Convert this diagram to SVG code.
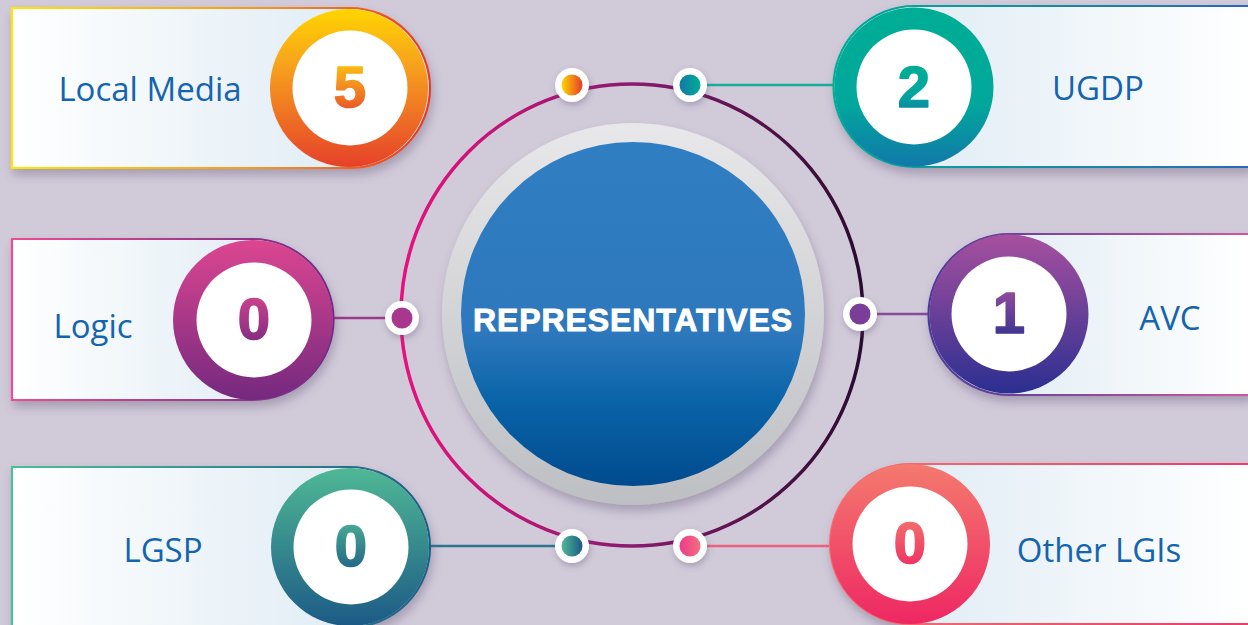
<svg xmlns="http://www.w3.org/2000/svg" width="1248" height="625" viewBox="0 0 1248 625">
<style>
.lbl{font-family:"Open Sans","Liberation Sans",sans-serif;font-size:33px;fill:#1464ae;text-anchor:middle}
.num{font-family:"Liberation Sans",Arial,sans-serif;font-weight:700;font-size:58px;text-anchor:middle;stroke-width:1.6;stroke-linejoin:round}
.title{font-family:"Liberation Sans",Arial,sans-serif;font-weight:700;font-size:32px;fill:#fff;stroke:#fff;stroke-width:0.9;text-anchor:middle;letter-spacing:0.9px}
.white{fill:#fff}
.dotw{fill:#fff;filter:url(#sh2)}
.conn{stroke-width:2.5;fill:none}
</style>
<defs>
<filter id="sh" x="-20%" y="-20%" width="140%" height="150%"><feDropShadow dx="2" dy="6" stdDeviation="5" flood-color="#5a4a6a" flood-opacity="0.35"/></filter>
<filter id="sh2" x="-50%" y="-50%" width="200%" height="200%"><feDropShadow dx="1" dy="3" stdDeviation="3" flood-color="#5a4a6a" flood-opacity="0.35"/></filter>
<linearGradient id="cardL" x1="0" y1="0" x2="1" y2="0"><stop offset="0" stop-color="#ffffff"/><stop offset="1" stop-color="#d9e8f2"/></linearGradient>
<linearGradient id="cardR" x1="0" y1="0" x2="1" y2="0"><stop offset="0" stop-color="#d9e8f2"/><stop offset="1" stop-color="#ffffff"/></linearGradient>
<linearGradient id="g5" x1="0" y1="0" x2="0" y2="1"><stop offset="0" stop-color="#ffd500"/><stop offset="0.35" stop-color="#f7a21d"/><stop offset="1" stop-color="#e6412a"/></linearGradient>
<linearGradient id="g5s" x1="0" y1="0" x2="1" y2="0"><stop offset="0" stop-color="#ffe600"/><stop offset="0.6" stop-color="#f6961f"/><stop offset="1" stop-color="#e63a26"/></linearGradient>
<linearGradient id="g2" x1="0" y1="0" x2="0" y2="1"><stop offset="0" stop-color="#00ad94"/><stop offset="0.6" stop-color="#00a89c"/><stop offset="1" stop-color="#1278aa"/></linearGradient>
<linearGradient id="g2s" x1="0" y1="0" x2="1" y2="0"><stop offset="0" stop-color="#00ad96"/><stop offset="1" stop-color="#2a6ab3"/></linearGradient>
<linearGradient id="gL" x1="0" y1="0" x2="0" y2="1"><stop offset="0" stop-color="#dc4690"/><stop offset="1" stop-color="#74297f"/></linearGradient>
<linearGradient id="gLs" x1="0" y1="0" x2="1" y2="0"><stop offset="0" stop-color="#ec4d92"/><stop offset="1" stop-color="#6e2b85"/></linearGradient>
<linearGradient id="gA" x1="0" y1="0" x2="0" y2="1"><stop offset="0" stop-color="#a7509e"/><stop offset="1" stop-color="#2b2f91"/></linearGradient>
<linearGradient id="gAs" x1="0" y1="0" x2="1" y2="0"><stop offset="0" stop-color="#4b3a9a"/><stop offset="1" stop-color="#cc5aa3"/></linearGradient>
<linearGradient id="gG" x1="0" y1="0" x2="0" y2="1"><stop offset="0" stop-color="#4fb895"/><stop offset="1" stop-color="#1c5a86"/></linearGradient>
<linearGradient id="gGs" x1="0" y1="0" x2="1" y2="0"><stop offset="0" stop-color="#4cc097"/><stop offset="1" stop-color="#1f5e86"/></linearGradient>
<linearGradient id="gO" x1="0" y1="0" x2="0" y2="1"><stop offset="0" stop-color="#f47a6e"/><stop offset="1" stop-color="#ee2763"/></linearGradient>
<linearGradient id="gOs" x1="0" y1="0" x2="1" y2="0"><stop offset="0" stop-color="#f3736f"/><stop offset="1" stop-color="#ee3a6a"/></linearGradient>
<linearGradient id="ring" x1="0" y1="0" x2="1" y2="0"><stop offset="0" stop-color="#e8107e"/><stop offset="0.5" stop-color="#8a1a6e"/><stop offset="1" stop-color="#2a0b30"/></linearGradient>
<linearGradient id="gray" x1="0" y1="0" x2="0" y2="1"><stop offset="0" stop-color="#e8e8ea"/><stop offset="1" stop-color="#bebfc3"/></linearGradient>
<linearGradient id="blue" x1="0" y1="0" x2="0" y2="1"><stop offset="0" stop-color="#307ec2"/><stop offset="0.55" stop-color="#2e78bd"/><stop offset="0.75" stop-color="#0a64a8"/><stop offset="1" stop-color="#004b8e"/></linearGradient>
<linearGradient id="d1" x1="0" y1="0" x2="1" y2="0"><stop offset="0" stop-color="#ffd800"/><stop offset="1" stop-color="#e63a2a"/></linearGradient>
<linearGradient id="d2" x1="0" y1="0" x2="1" y2="0"><stop offset="0" stop-color="#1278aa"/><stop offset="1" stop-color="#00ad94"/></linearGradient>
<linearGradient id="d5" x1="0" y1="0" x2="1" y2="0"><stop offset="0" stop-color="#4fb895"/><stop offset="1" stop-color="#1c5a86"/></linearGradient>
<linearGradient id="d6" x1="0" y1="0" x2="1" y2="0"><stop offset="0" stop-color="#ee3a8a"/><stop offset="1" stop-color="#f0707e"/></linearGradient>
<linearGradient id="c1" x1="0" y1="0" x2="1" y2="0"><stop offset="0" stop-color="#f7a21d"/><stop offset="1" stop-color="#e8452a"/></linearGradient>
</defs>
<rect width="1248" height="625" fill="#d0cad9"/>

<g id="connectors">
<line class="conn" x1="428" y1="85" x2="560" y2="85" stroke="url(#c1)"/>
<line class="conn" x1="704" y1="85" x2="836" y2="85" stroke="#17ad9c"/>
<line class="conn" x1="332" y1="318" x2="390" y2="318" stroke="#9a3a8d"/>
<line class="conn" x1="874" y1="314" x2="932" y2="314" stroke="#8a4a9e"/>
<line class="conn" x1="428" y1="546" x2="560" y2="546" stroke="#2a7590"/>
<line class="conn" x1="704" y1="546" x2="832" y2="546" stroke="#f0607c"/>
</g>

<g id="center">
<circle cx="632" cy="315" r="231" fill="none" stroke="url(#ring)" stroke-width="3.5"/>
<circle cx="633" cy="314" r="191" fill="url(#gray)" filter="url(#sh)"/>
<circle cx="633" cy="314" r="172" fill="url(#blue)"/>
<text class="title" x="633" y="331">REPRESENTATIVES</text>
</g>

<g id="dots">
<circle class="dotw" cx="572" cy="85" r="17"/><circle cx="572" cy="85" r="10.5" fill="url(#d1)"/>
<circle class="dotw" cx="690" cy="85" r="17"/><circle cx="690" cy="85" r="10.5" fill="url(#d2)"/>
<circle class="dotw" cx="402" cy="318" r="17"/><circle cx="402" cy="318" r="10.5" fill="#a8378d"/>
<circle class="dotw" cx="860" cy="314" r="17"/><circle cx="860" cy="314" r="10.5" fill="#7a3e98"/>
<circle class="dotw" cx="572" cy="546" r="17"/><circle cx="572" cy="546" r="10.5" fill="url(#d5)"/>
<circle class="dotw" cx="690" cy="546" r="17"/><circle cx="690" cy="546" r="10.5" fill="url(#d6)"/>
</g>

<g id="node-local-media">
<path d="M12,8 H350 A80,80 0 0 1 350,168 H12 Z" fill="url(#cardL)" stroke="url(#g5s)" stroke-width="2.2" filter="url(#sh)"/>
<circle cx="349" cy="88" r="79" fill="url(#g5)"/>
<circle cx="350" cy="88" r="57.5" class="white"/>
<text class="num" x="350" y="107" fill="url(#g5)" stroke="url(#g5)">5</text>
<text class="lbl" x="150" y="101">Local Media</text>
</g>

<g id="node-ugdp">
<path d="M1250,6 H914 A80.5,80.5 0 0 0 914,167 H1250 Z" fill="url(#cardR)" stroke="url(#g2s)" stroke-width="2.2" filter="url(#sh)"/>
<circle cx="914" cy="87" r="79.5" fill="url(#g2)"/>
<circle cx="914" cy="87" r="57.5" class="white"/>
<text class="num" x="914" y="107" fill="url(#g2)" stroke="url(#g2)">2</text>
<text class="lbl" x="1098" y="100">UGDP</text>
</g>

<g id="node-logic">
<path d="M12,239 H253 A80.5,80.5 0 0 1 253,400 H12 Z" fill="url(#cardL)" stroke="url(#gLs)" stroke-width="2.2" filter="url(#sh)"/>
<circle cx="253" cy="320" r="80" fill="url(#gL)"/>
<circle cx="254" cy="320" r="57.5" class="white"/>
<text class="num" x="254" y="339" fill="url(#gL)" stroke="url(#gL)">0</text>
<text class="lbl" x="93" y="338">Logic</text>
</g>

<g id="node-avc">
<path d="M1250,234 H1009 A80.5,80.5 0 0 0 1009,395 H1250 Z" fill="url(#cardR)" stroke="url(#gAs)" stroke-width="2.2" filter="url(#sh)"/>
<circle cx="1009" cy="314" r="79.5" fill="url(#gA)"/>
<circle cx="1009" cy="314" r="57.5" class="white"/>
<text class="num" x="1009" y="333" fill="url(#gA)" stroke="url(#gA)">1</text>
<text class="lbl" x="1170" y="330">AVC</text>
</g>

<g id="node-lgsp">
<path d="M12,467 H350 A80,80 0 0 1 350,627 H12 Z" fill="url(#cardL)" stroke="url(#gGs)" stroke-width="2.2" filter="url(#sh)"/>
<circle cx="350" cy="547" r="79" fill="url(#gG)"/>
<circle cx="351" cy="547" r="57.5" class="white"/>
<text class="num" x="351" y="566" fill="url(#gG)" stroke="url(#gG)">0</text>
<text class="lbl" x="163" y="562">LGSP</text>
</g>

<g id="node-other-lgis">
<path d="M1250,464 H910 A80,80 0 0 0 910,624 H1250 Z" fill="url(#cardR)" stroke="url(#gOs)" stroke-width="2.2" filter="url(#sh)"/>
<circle cx="910" cy="544" r="80" fill="url(#gO)"/>
<circle cx="910" cy="544" r="57.5" class="white"/>
<text class="num" x="910" y="563" fill="url(#gO)" stroke="url(#gO)">0</text>
<text class="lbl" x="1099" y="562">Other LGIs</text>
</g>
</svg>
